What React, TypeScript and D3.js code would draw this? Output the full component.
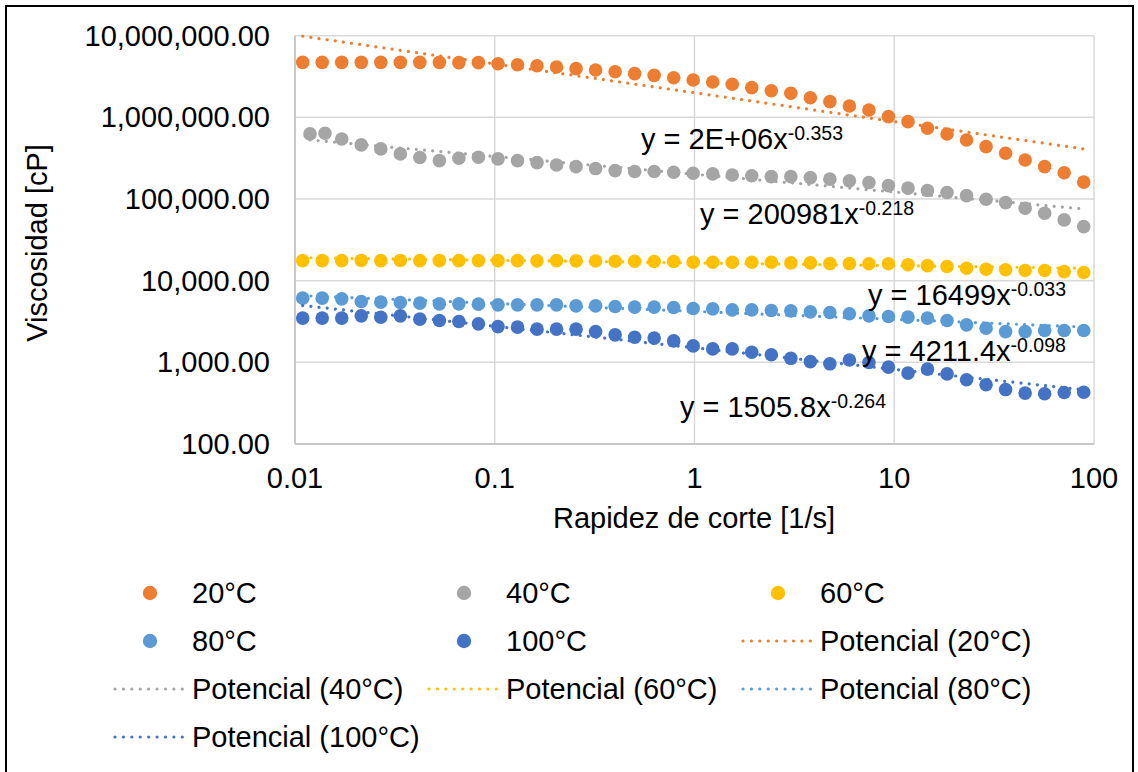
import * as d3 from 'd3';

// shear rate [1/s] (log spaced)
const shearRate = [
  0.01093, 0.01368, 0.01714, 0.02147, 0.02689, 0.03368, 0.04217, 0.05282, 0.06615, 0.08286,
  0.1038, 0.13, 0.1628, 0.2039, 0.2553, 0.3198, 0.4005, 0.5016, 0.6281, 0.7867,
  0.985, 1.234, 1.545, 1.935, 2.424, 3.036, 3.802, 4.762, 5.964, 7.469,
  9.354, 11.72, 14.67, 18.38, 23.01, 28.82, 36.1, 45.21, 56.62, 70.92, 88.82,
];
// the 40°C run starts a little later
const shearRate40 = [
  0.01189, 0.01413, 0.01714, 0.02147, 0.02689, 0.03368, 0.04217, 0.05282, 0.06615, 0.08286,
  0.1038, 0.13, 0.1628, 0.2039, 0.2553, 0.3198, 0.4005, 0.5016, 0.6281, 0.7867,
  0.985, 1.234, 1.545, 1.935, 2.424, 3.036, 3.802, 4.762, 5.964, 7.469,
  9.354, 11.72, 14.67, 18.38, 23.01, 28.82, 36.1, 45.21, 56.62, 70.92, 88.82,
];

// viscosity [cP]
const visc20 = [
  4720000, 4720000, 4720000, 4720000, 4720000, 4720000, 4720000, 4720000, 4680000, 4680000,
  4540000, 4410000, 4290000, 4140000, 3950000, 3800000, 3620000, 3430000, 3270000, 3060000,
  2870000, 2710000, 2540000, 2310000, 2120000, 1970000, 1740000, 1560000, 1380000, 1230000,
  1020000, 886000, 736000, 626000, 529000, 438000, 364000, 301000, 249000, 210000, 161000,
];
const visc40 = [
  627000, 639000, 544000, 460000, 411000, 357000, 322000, 295000, 316000, 325000,
  310000, 295000, 279000, 261000, 249000, 236000, 223000, 217000, 217000, 213000,
  207000, 203000, 197000, 193000, 188000, 188000, 183000, 175000, 167000, 159000,
  146000, 136000, 127000, 120000, 110000, 99500, 90300, 77100, 67000, 55500, 45900,
];
const visc60 = [
  17600, 17600, 17600, 17700, 17600, 17700, 17600, 17600, 17600, 17600,
  17600, 17600, 17500, 17600, 17500, 17400, 17300, 17300, 17200, 17200,
  16800, 16800, 16800, 16800, 16800, 16500, 16500, 16200, 16200, 16100,
  16100, 15700, 15300, 14900, 14200, 13800, 13600, 13300, 13300, 12900, 12600,
];
const visc80 = [
  6110, 6110, 5990, 5550, 5460, 5400, 5310, 5200, 5200, 5160,
  5060, 5060, 5060, 5060, 4920, 4920, 4820, 4740, 4740, 4690,
  4560, 4520, 4390, 4390, 4310, 4270, 4150, 4070, 3930, 3710,
  3640, 3580, 3480, 3250, 2880, 2620, 2380, 2380, 2450, 2450, 2450,
];
const visc100 = [
  3480, 3480, 3480, 3710, 3570, 3710, 3380, 3250, 3160, 2960,
  2740, 2700, 2550, 2550, 2550, 2380, 2170, 2030, 1980, 1830,
  1590, 1460, 1460, 1330, 1240, 1120, 1020, 959, 1070, 995,
  874, 738, 826, 722, 611, 531, 464, 420, 412, 427, 431,
];

const seriesNames = ['20°C', '40°C', '60°C', '80°C', '100°C'];
const seriesColors = ['#ED7D31', '#A5A5A5', '#FFC000', '#5B9BD5', '#4472C4'];
const seriesX = [shearRate, shearRate40, shearRate, shearRate, shearRate];
const seriesY = [visc20, visc40, visc60, visc80, visc100];

// power trendlines y = a * x^b as shown on the chart
const trendA = [2e6, 200981, 16499, 4211.4, 1505.8];
const trendB = [-0.353, -0.218, -0.033, -0.098, -0.264];
const trendCoef = ['2E+06', '200981', '16499', '4211.4', '1505.8'];
const trendExp = ['-0.353', '-0.218', '-0.033', '-0.098', '-0.264'];

const yTicks = [100, 1000, 10000, 100000, 1000000, 10000000];
const xTicks = [0.01, 0.1, 1, 10, 100];
const xTickLabels = ['0.01', '0.1', '1', '10', '100'];

const width = 1138;
const height = 772;
const font = '"Liberation Sans", Arial, sans-serif';
const fs = 29;
const labelPos = [
  [641, 149],
  [700, 224],
  [868, 305],
  [862, 361],
  [680, 417],
];

export default function App() {
  const x = d3.scaleLog().domain([0.01, 100]).range([295, 1094]);
  const y = d3.scaleLog().domain([100, 1e7]).range([444, 35.7]);
  const fmt = d3.format(',.2f');

  const legend = [
    ...seriesNames.map((n, i) => ({ label: n, color: seriesColors[i], kind: 'marker' })),
    ...seriesNames.map((n, i) => ({ label: `Potencial (${n})`, color: seriesColors[i], kind: 'line' })),
  ];
  const colText = [192, 506, 820];
  const rowY = [593, 641, 689, 737];

  return (
    <svg
      width={width}
      height={height}
      style={{ position: 'absolute', left: 0, top: 0, background: '#fff' }}
      fontFamily={font}
    >
      <rect x={0} y={0} width={width} height={height} fill="#fff" />
      <rect x={6} y={6} width={1127} height={800} fill="none" stroke="#000" strokeWidth={2} />

      {/* grid */}
      <g stroke="#d9d9d9" strokeWidth={1.5}>
        {yTicks.map((t) => (
          <line key={t} x1={x(0.01)} x2={x(100)} y1={y(t)} y2={y(t)} />
        ))}
        {xTicks.map((t) => (
          <line key={t} x1={x(t)} x2={x(t)} y1={y(1e7)} y2={y(100)} />
        ))}
      </g>
      <g stroke="#bfbfbf" strokeWidth={1.5}>
        <line x1={x(0.01)} x2={x(0.01)} y1={y(1e7)} y2={y(100)} />
        <line x1={x(0.01)} x2={x(100)} y1={y(100)} y2={y(100)} />
      </g>

      {/* tick labels */}
      <g fontSize={fs} fill="#000">
        {yTicks.map((t) => (
          <text key={t} x={270} y={y(t) + 10} textAnchor="end">
            {fmt(t)}
          </text>
        ))}
        {xTicks.map((t, i) => (
          <text key={t} x={x(t)} y={488} textAnchor="middle">
            {xTickLabels[i]}
          </text>
        ))}
        <text x={694} y={528} textAnchor="middle">
          Rapidez de corte [1/s]
        </text>
        <text transform="translate(47,243) rotate(-90)" textAnchor="middle">
          Viscosidad [cP]
        </text>
      </g>

      {/* markers */}
      {seriesY.map((vals, s) => (
        <g key={s} fill={seriesColors[s]}>
          {vals.map((v, i) => (
            <circle key={i} cx={x(seriesX[s][i])} cy={y(v)} r={6.8} />
          ))}
        </g>
      ))}

      {/* power trendlines */}
      {seriesX.map((xs, s) => {
        const x0 = xs[0];
        const x1 = xs[xs.length - 1];
        return (
          <line
            key={s}
            x1={x(x0)}
            y1={y(trendA[s] * Math.pow(x0, trendB[s]))}
            x2={x(x1)}
            y2={y(trendA[s] * Math.pow(x1, trendB[s]))}
            stroke={seriesColors[s]}
            strokeWidth={3.2}
            strokeLinecap="round"
            strokeDasharray="0.01 8.2"
          />
        );
      })}

      {/* equations */}
      <g fontSize={fs} fill="#000">
        {trendCoef.map((c, s) => (
          <text key={s} x={labelPos[s][0]} y={labelPos[s][1]}>
            {`y = ${c}x`}
            <tspan fontSize={19.5} dy={-9}>
              {trendExp[s]}
            </tspan>
          </text>
        ))}
      </g>

      {/* legend */}
      <g fontSize={fs} fill="#000">
        {legend.map((d, i) => {
          const tx = colText[i % 3];
          const ty = rowY[Math.floor(i / 3)];
          return (
            <g key={i}>
              {d.kind === 'marker' ? (
                <circle cx={tx - 42} cy={ty} r={7.2} fill={d.color} />
              ) : (
                <line
                  x1={tx - 77}
                  x2={tx - 9}
                  y1={ty}
                  y2={ty}
                  stroke={d.color}
                  strokeWidth={3.2}
                  strokeLinecap="round"
                  strokeDasharray="0.01 8.4"
                />
              )}
              <text x={tx} y={ty + 10}>
                {d.label}
              </text>
            </g>
          );
        })}
      </g>
    </svg>
  );
}
